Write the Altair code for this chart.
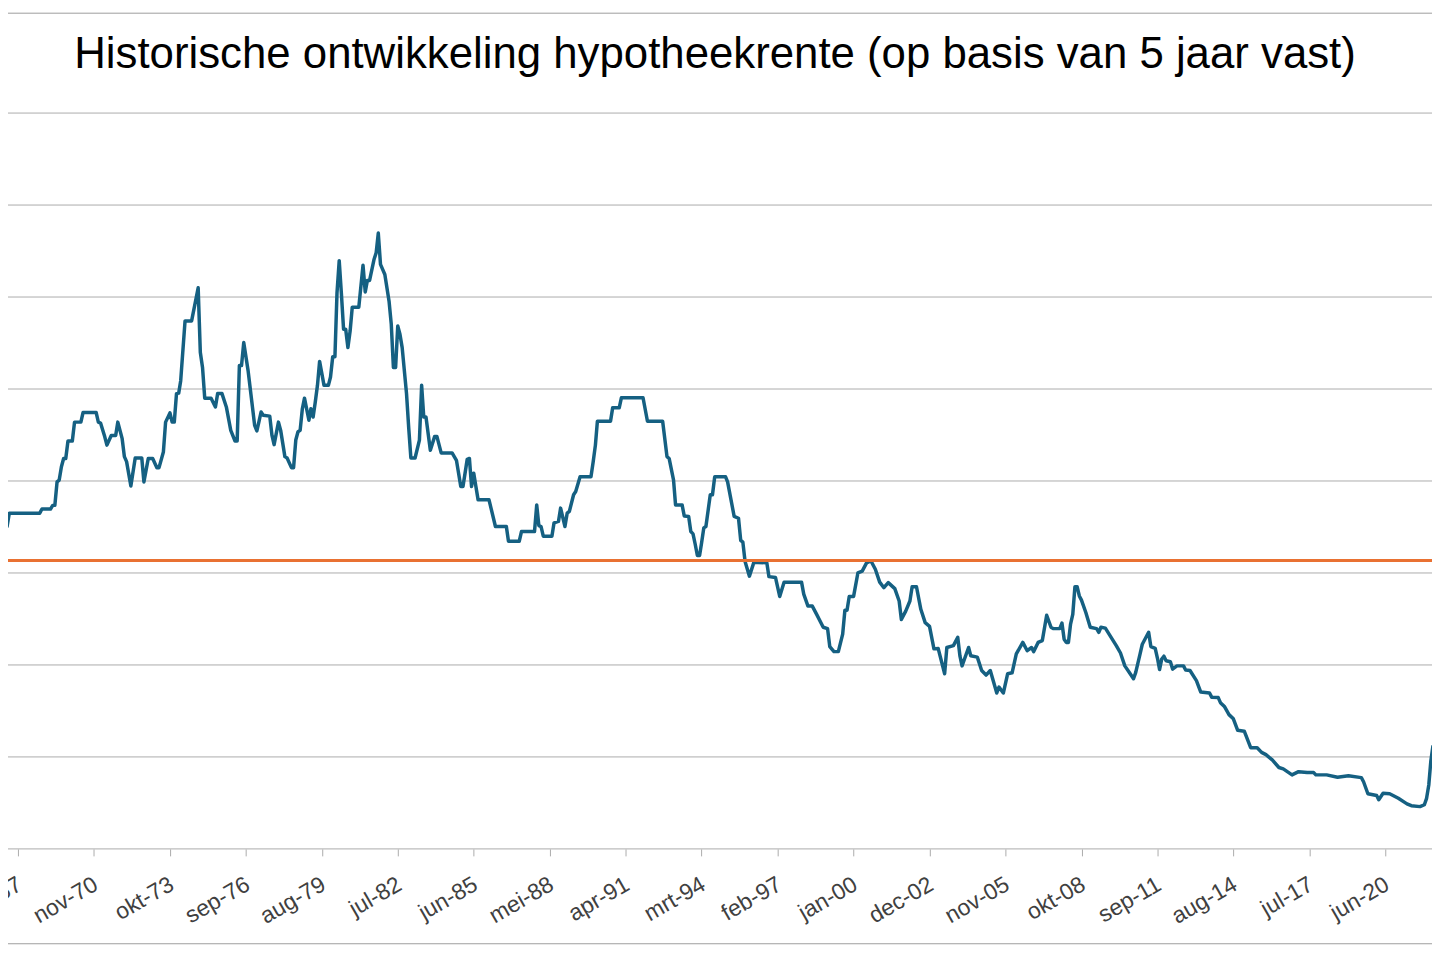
import altair as alt
import pandas as pd

title_text = "Historische ontwikkeling hypotheekrente (op basis van 5 jaar vast)"

# month (YYYY-MM) and 5-year fixed mortgage rate (%)
months = [
    "1967-04", "1967-06", "1967-07", "1967-08", "1968-10", "1968-11", "1969-03", "1969-04",
    "1969-05", "1969-06", "1969-07", "1969-08", "1969-09", "1969-10", "1969-11", "1970-01",
    "1970-02", "1970-05", "1970-06", "1970-12", "1971-01", "1971-02", "1971-04", "1971-05",
    "1971-07", "1971-09", "1971-10", "1971-12", "1972-01", "1972-02", "1972-04", "1972-06",
    "1972-09", "1972-10", "1972-12", "1973-02", "1973-04", "1973-05", "1973-07", "1973-08",
    "1973-10", "1973-11", "1973-12", "1974-01", "1974-02", "1974-03", "1974-05", "1974-08",
    "1974-11", "1974-12", "1975-01", "1975-02", "1975-05", "1975-07", "1975-08", "1975-10",
    "1975-12", "1976-02", "1976-04", "1976-05", "1976-06", "1976-07", "1976-08", "1976-10",
    "1977-01", "1977-02", "1977-03", "1977-04", "1977-05", "1977-08", "1977-09", "1977-10",
    "1977-12", "1978-01", "1978-03", "1978-04", "1978-06", "1978-07", "1978-08", "1978-09",
    "1978-10", "1978-11", "1978-12", "1979-02", "1979-03", "1979-04", "1979-05", "1979-06",
    "1979-07", "1979-09", "1979-11", "1979-12", "1980-01", "1980-02", "1980-03", "1980-04",
    "1980-05", "1980-06", "1980-07", "1980-08", "1980-09", "1980-10", "1981-01", "1981-03",
    "1981-04", "1981-05", "1981-06", "1981-08", "1981-09", "1981-10", "1981-11", "1982-01",
    "1982-03", "1982-04", "1982-05", "1982-06", "1982-07", "1982-08", "1982-09", "1982-11",
    "1982-12", "1983-01", "1983-03", "1983-05", "1983-06", "1983-07", "1983-08", "1983-10",
    "1983-12", "1984-01", "1984-03", "1984-08", "1984-10", "1984-12", "1985-01", "1985-03",
    "1985-04", "1985-05", "1985-06", "1985-07", "1985-08", "1986-01", "1986-04", "1986-09",
    "1986-10", "1987-03", "1987-04", "1987-10", "1987-11", "1987-12", "1988-01", "1988-02",
    "1988-06", "1988-07", "1988-09", "1988-10", "1988-12", "1989-01", "1989-02", "1989-04",
    "1989-05", "1989-07", "1989-12", "1990-01", "1990-02", "1990-03", "1990-09", "1990-10",
    "1991-01", "1991-02", "1991-12", "1992-02", "1992-09", "1992-11", "1992-12", "1993-02",
    "1993-03", "1993-06", "1993-07", "1993-09", "1993-10", "1993-11", "1993-12", "1994-01",
    "1994-02", "1994-03", "1994-04", "1994-05", "1994-07", "1994-08", "1994-09", "1995-02",
    "1995-03", "1995-06", "1995-08", "1995-09", "1995-10", "1995-11", "1996-01", "1996-03",
    "1996-05", "1996-09", "1996-10", "1997-01", "1997-03", "1997-05", "1998-01", "1998-02",
    "1998-04", "1998-06", "1998-08", "1998-11", "1999-01", "1999-02", "1999-04", "1999-06",
    "1999-08", "1999-09", "1999-10", "1999-11", "2000-01", "2000-03", "2000-05", "2000-07",
    "2000-09", "2000-11", "2001-01", "2001-03", "2001-05", "2001-08", "2001-10", "2001-11",
    "2002-01", "2002-03", "2002-04", "2002-06", "2002-08", "2002-10", "2002-12", "2003-02",
    "2003-04", "2003-07", "2003-08", "2003-11", "2004-01", "2004-02", "2004-03", "2004-06",
    "2004-07", "2004-10", "2004-12", "2005-02", "2005-04", "2005-07", "2005-08", "2005-10",
    "2005-12", "2006-02", "2006-04", "2006-07", "2006-09", "2006-11", "2006-12", "2007-02",
    "2007-04", "2007-06", "2007-08", "2007-09", "2007-12", "2008-01", "2008-02", "2008-03",
    "2008-04", "2008-05", "2008-06", "2008-07", "2008-08", "2008-09", "2008-10", "2008-12",
    "2009-02", "2009-05", "2009-06", "2009-07", "2009-09", "2009-11", "2010-02", "2010-04",
    "2010-06", "2010-08", "2010-10", "2010-11", "2011-01", "2011-02", "2011-05", "2011-06",
    "2011-08", "2011-09", "2011-10", "2011-11", "2011-12", "2012-01", "2012-03", "2012-04",
    "2012-06", "2012-09", "2012-10", "2012-12", "2013-03", "2013-05", "2013-09", "2013-10",
    "2014-01", "2014-02", "2014-04", "2014-06", "2014-08", "2014-10", "2015-01", "2015-04",
    "2015-07", "2015-09", "2015-11", "2016-02", "2016-05", "2016-07", "2016-11", "2017-02",
    "2017-06", "2017-09", "2017-10", "2018-03", "2018-08", "2019-01", "2019-07", "2019-08",
    "2019-10", "2020-02", "2020-03", "2020-05", "2020-08", "2020-12", "2021-04", "2021-06",
    "2021-10", "2021-12", "2022-01", "2022-02", "2022-03", "2022-04",
]

rates = [
    7.66, 7.01, 7.01, 7.30, 7.30, 7.39, 7.39, 7.47,
    7.47, 7.98, 8.02, 8.31, 8.49, 8.49, 8.87, 8.87,
    9.28, 9.28, 9.49, 9.49, 9.28, 9.26, 8.96, 8.78,
    8.99, 8.99, 9.28, 8.92, 8.53, 8.42, 7.89, 8.50,
    8.50, 7.98, 8.49, 8.49, 8.29, 8.29, 8.63, 9.28,
    9.48, 9.28, 9.28, 9.90, 9.91, 10.18, 11.48, 11.48,
    12.20, 10.80, 10.47, 9.80, 9.80, 9.61, 9.90, 9.90,
    9.61, 9.10, 8.87, 8.87, 10.51, 10.51, 11.01, 10.40,
    9.21, 9.09, 9.28, 9.50, 9.43, 9.41, 8.99, 8.79,
    9.28, 9.10, 8.53, 8.50, 8.29, 8.29, 8.89, 9.07,
    9.10, 9.57, 9.80, 9.32, 9.57, 9.39, 9.71, 10.08,
    10.60, 10.08, 10.08, 10.26, 10.70, 10.70, 12.09, 12.79,
    12.09, 11.30, 11.30, 10.90, 11.26, 11.78, 11.78, 12.69,
    12.11, 12.36, 12.36, 12.81, 12.96, 13.39, 12.71, 12.49,
    11.91, 11.41, 10.47, 10.47, 11.37, 11.19, 10.90, 9.90,
    9.17, 8.50, 8.50, 8.89, 10.08, 9.39, 9.39, 8.67,
    8.97, 8.97, 8.61, 8.61, 8.45, 7.88, 7.88, 8.47,
    8.49, 7.88, 8.17, 7.88, 7.59, 7.59, 7.01, 7.01,
    6.69, 6.69, 6.90, 6.90, 7.48, 7.03, 7.01, 6.80,
    6.80, 7.09, 7.12, 7.41, 7.01, 7.30, 7.34, 7.70,
    7.77, 8.09, 8.09, 8.42, 8.78, 9.30, 9.30, 9.59,
    9.59, 9.81, 9.81, 9.30, 9.30, 8.53, 8.49, 8.02,
    7.48, 7.48, 7.24, 7.23, 6.90, 6.85, 6.63, 6.38,
    6.38, 6.65, 6.98, 7.01, 7.70, 7.70, 8.09, 8.09,
    7.98, 7.23, 7.19, 6.71, 6.67, 6.25, 5.93, 6.22,
    6.23, 6.22, 5.92, 5.90, 5.49, 5.80, 5.80, 5.54,
    5.28, 5.28, 5.10, 4.82, 4.79, 4.40, 4.29, 4.29,
    4.67, 5.19, 5.19, 5.49, 5.49, 6.00, 6.04, 6.22,
    6.26, 6.08, 5.80, 5.68, 5.79, 5.66, 5.39, 4.99,
    5.17, 5.39, 5.70, 5.70, 5.21, 4.92, 4.84, 4.35,
    4.36, 3.81, 4.38, 4.42, 4.60, 4.19, 3.98, 4.38,
    4.20, 4.17, 3.88, 3.78, 3.88, 3.39, 3.52, 3.39,
    3.81, 3.83, 4.24, 4.49, 4.31, 4.38, 4.29, 4.49,
    4.53, 5.08, 4.82, 4.79, 4.79, 4.91, 4.56, 4.49,
    4.49, 4.89, 5.10, 5.70, 5.70, 5.50, 5.41, 5.14,
    4.82, 4.79, 4.71, 4.82, 4.80, 4.65, 4.42, 4.26,
    3.98, 3.84, 3.70, 3.84, 4.24, 4.45, 4.71, 4.40,
    4.36, 4.15, 3.90, 4.13, 4.19, 4.09, 4.07, 3.91,
    3.98, 3.98, 3.89, 3.88, 3.66, 3.41, 3.39, 3.30,
    3.29, 3.18, 3.09, 2.92, 2.83, 2.58, 2.56, 2.20,
    2.20, 2.10, 2.05, 1.93, 1.77, 1.74, 1.61, 1.68,
    1.66, 1.66, 1.61, 1.61, 1.56, 1.59, 1.55, 1.46,
    1.20, 1.16, 1.07, 1.21, 1.20, 1.10, 0.98, 0.94,
    0.92, 0.96, 1.10, 1.39, 1.90, 2.25,
]

average_rate = 6.27

tick_months = [
    "1967-12", "1970-11", "1973-10", "1976-09", "1979-08", "1982-07", "1985-06",
    "1988-05", "1991-04", "1994-03", "1997-02", "2000-01", "2002-12", "2005-11",
    "2008-10", "2011-09", "2014-08", "2017-07", "2020-06", "2023-05",
]
month_names = ["jan", "feb", "mrt", "apr", "mei", "jun", "jul", "aug", "sep", "okt", "nov", "dec"]

# horizontal gridlines (percent), incl. the chart-area border lines at top and bottom
grid_values = [-2.06, 0, 2, 4, 6, 8, 10, 12, 14, 16, 18.17]

df = pd.DataFrame({"datum": [m + "-01" for m in months], "rente": rates})
avg_df = pd.DataFrame({"rente": [average_rate]})
grid_df = pd.DataFrame({"rente": grid_values})

tick_dt = [alt.DateTime(year=int(t[:4]), month=int(t[5:]), date=1, utc=True) for t in tick_months]
name_js = "[" + ",".join("'" + n + "'" for n in month_names) + "]"
label_expr = name_js + "[utcmonth(datum.value)] + '-' + utcFormat(datum.value, '%y')"

grid_color = "#ababab"

x_enc = alt.X(
    "datum:T",
    scale=alt.Scale(
        type="utc",
        domain=[alt.DateTime(year=1967, month=6, date=16, utc=True),
                alt.DateTime(year=2022, month=3, date=18, utc=True)],
        nice=False,
    ),
    axis=alt.Axis(
        values=tick_dt,
        labelExpr=label_expr,
        labelAngle=330,
        labelAlign="right",
        labelBaseline="top",
        labelFont="Liberation Sans",
        labelFontSize=23,
        labelColor="#404040",
        labelPadding=17,
        labelOffset=-4,
        labelOverlap=False,
        labelFlush=False,
        labelBound=False,
        tickSize=7,
        tickColor=grid_color,
        tickWidth=1,
        domain=False,
        grid=False,
        offset=-95,
        title=None,
    ),
)

y_scale = alt.Scale(domain=[-2.054, 18.184], nice=False, zero=False)

grid = alt.Chart(grid_df).mark_rule(color=grid_color, strokeWidth=1).encode(
    y=alt.Y("rente:Q", scale=y_scale, axis=None)
)

line = alt.Chart(df).mark_line(
    color="#156082", strokeWidth=3.5, clip=True, strokeJoin="round"
).encode(x=x_enc, y=alt.Y("rente:Q", scale=y_scale, axis=None))

avg_rule = alt.Chart(avg_df).mark_rule(color="#E97132", strokeWidth=3).encode(
    y=alt.Y("rente:Q", scale=y_scale, axis=None)
)

chart = (
    alt.layer(grid, line, avg_rule)
    .properties(
        width=1434,
        height=936,
        autosize=alt.AutoSizeParams(type="none"),
        padding={"left": -2, "top": 2, "right": 0, "bottom": 2},
        title=alt.TitleParams(
            text=title_text,
            font="Liberation Sans",
            fontSize=44,
            fontWeight="normal",
            color="#000000",
            anchor="middle",
            frame="group",
            baseline="alphabetic",
            offset=-100,
            dx=-4,
        ),
    )
    .configure_view(stroke="transparent", strokeWidth=0, strokeOpacity=0)
    .configure_axis(domain=False)
    .configure(background="#ffffff")
)

chart.save("out.html", embed_options={"renderer": "svg", "actions": False})
